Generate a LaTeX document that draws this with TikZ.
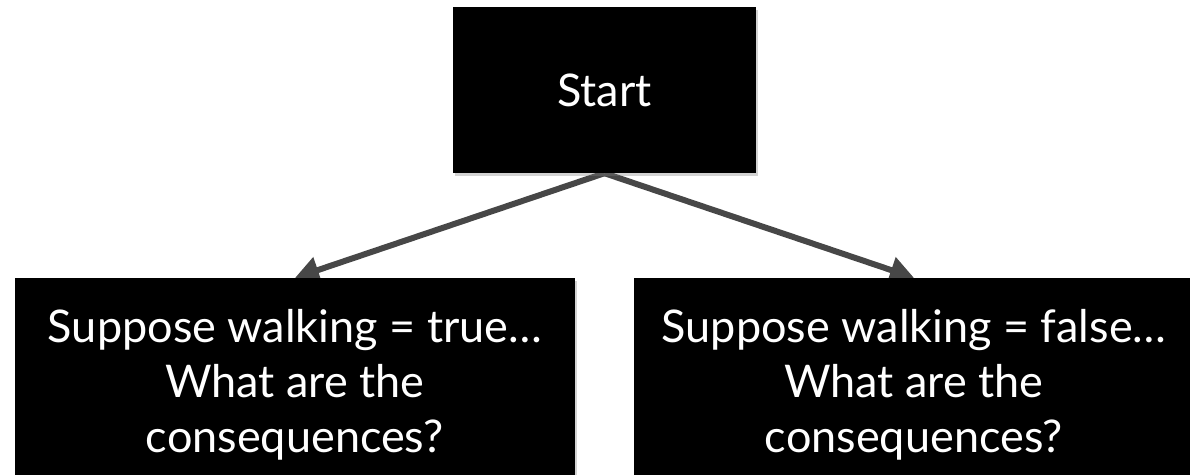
\documentclass[tikz,border=0pt]{standalone}
\usepackage{fontspec}
\setmainfont{Lato}
\usetikzlibrary{arrows.meta,shadows,backgrounds}
\begin{document}
\begin{tikzpicture}[x=1pt,y=-1pt,
  box/.style={fill=black, text=white, align=center, inner sep=0pt,
    font=\fontsize{45}{55}\selectfont,
    drop shadow={shadow xshift=2pt, shadow yshift=-3pt, opacity=0.35}},
  link/.style={draw=black!72, line width=6pt,
    -{Triangle[length=24pt,width=26pt]}}]
\useasboundingbox (0,0) rectangle (1190,474);
\clip (0,0) rectangle (1190,474);
% top decision box
\node[box, minimum width=303pt, minimum height=166pt] (start) at (604.5,90) {Start};
% the two branches
\node[box, minimum width=560pt, minimum height=214pt] (yes) at (295,385)
  {Suppose walking = true…\\What are the\\consequences?};
\node[box, minimum width=560pt, minimum height=214pt] (no) at (914,385)
  {Suppose walking = false…\\What are the\\consequences?};
\begin{scope}[on background layer]
  \draw[link] (start.south) -- (yes.north);
  \draw[link] (start.south) -- (no.north);
\end{scope}
\end{tikzpicture}
\end{document}
